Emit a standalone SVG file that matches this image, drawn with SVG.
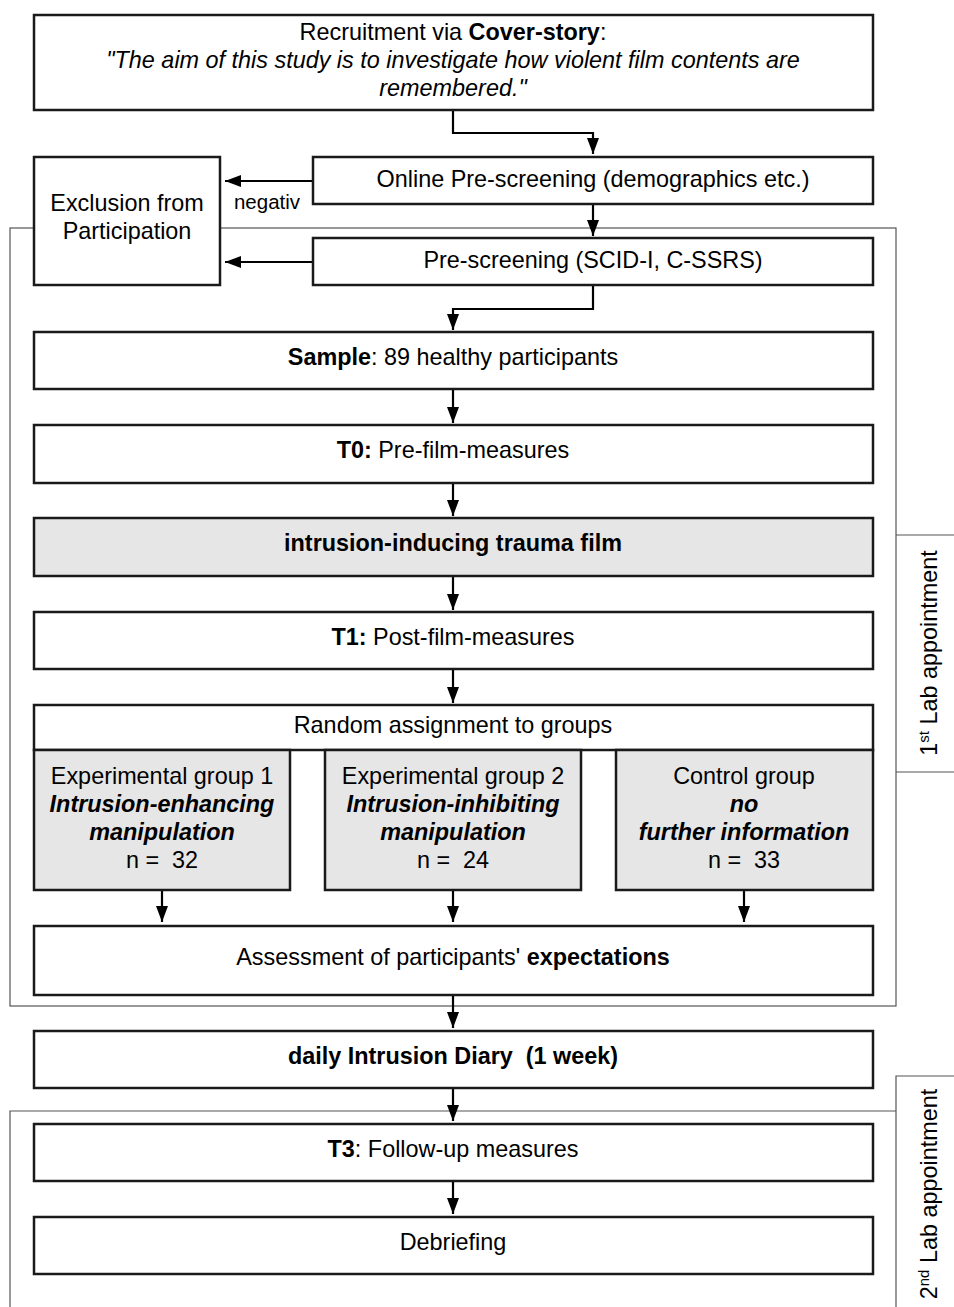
<svg xmlns="http://www.w3.org/2000/svg" width="954" height="1307" viewBox="0 0 954 1307">
<style>
text{font-family:"Liberation Sans",Arial,sans-serif;font-size:23.4px;fill:#000;text-anchor:middle}
.box{fill:#fff;stroke:#1a1a1a;stroke-width:2.5}
.grey{fill:#e6e6e6;stroke:#1a1a1a;stroke-width:2.5}
.frame{fill:none;stroke:#555;stroke-width:1.2}
.con{fill:none;stroke:#000;stroke-width:2.2}
.b{font-weight:bold}
.i{font-style:italic}
</style>
<defs>
<marker id="ah2" markerWidth="16" markerHeight="12" refX="16" refY="6" orient="auto" markerUnits="userSpaceOnUse">
<path d="M0,0 L16,6 L0,12 Z" fill="#000"/>
</marker>
</defs>
<g id="frames">
<rect class="frame" x="10" y="228" width="886" height="778"/>
<path class="frame" d="M896,535 H960 M896,772 H960"/>
<path class="frame" d="M10,1320 V1111 H896 M896,1320 V1076 H960"/>
</g>
<g id="connectors">
<path class="con" d="M453,110 V133 H593 V154" marker-end="url(#ah2)"/>
<path class="con" d="M313,181 H225" marker-end="url(#ah2)"/>
<path class="con" d="M593,204 V236" marker-end="url(#ah2)"/>
<path class="con" d="M313,262 H225" marker-end="url(#ah2)"/>
<path class="con" d="M593,285 V309 H453 V330" marker-end="url(#ah2)"/>
<path class="con" d="M453,389 V423" marker-end="url(#ah2)"/>
<path class="con" d="M453,483 V516" marker-end="url(#ah2)"/>
<path class="con" d="M453,576 V610" marker-end="url(#ah2)"/>
<path class="con" d="M453,669 V703" marker-end="url(#ah2)"/>
<path class="con" d="M162,890 V922" marker-end="url(#ah2)"/>
<path class="con" d="M453,890 V922" marker-end="url(#ah2)"/>
<path class="con" d="M744,890 V922" marker-end="url(#ah2)"/>
<path class="con" d="M453,995 V1028" marker-end="url(#ah2)"/>
<path class="con" d="M453,1088 V1121" marker-end="url(#ah2)"/>
<path class="con" d="M453,1181 V1214" marker-end="url(#ah2)"/>
<text x="267" y="209" style="font-size:20.5px">negativ</text>
</g>
<g id="recruitment">
<rect class="box" x="34" y="15" width="839" height="95"/>
<text x="453" y="40">Recruitment via <tspan class="b">Cover-story</tspan>:</text>
<text x="453" y="68" class="i">"The aim of this study is to investigate how violent film contents are</text>
<text x="453" y="96" class="i">remembered."</text>
</g>
<g id="online">
<rect class="box" x="313" y="157" width="560" height="47"/>
<text x="593" y="187">Online Pre-screening (demographics etc.)</text>
</g>
<g id="exclusion">
<rect class="box" x="34" y="157" width="186" height="128"/>
<text x="127" y="211">Exclusion from</text>
<text x="127" y="239">Participation</text>
</g>
<g id="prescreening">
<rect class="box" x="313" y="238" width="560" height="47"/>
<text x="593" y="268">Pre-screening (SCID-I, C-SSRS)</text>
</g>
<g id="sample">
<rect class="box" x="34" y="332" width="839" height="57"/>
<text x="453" y="365"><tspan class="b">Sample</tspan>: 89 healthy participants</text>
</g>
<g id="t0">
<rect class="box" x="34" y="425" width="839" height="58"/>
<text x="453" y="458"><tspan class="b">T0:</tspan> Pre-film-measures</text>
</g>
<g id="film">
<rect class="grey" x="34" y="518" width="839" height="58"/>
<text x="453" y="551" class="b">intrusion-inducing trauma film</text>
</g>
<g id="t1">
<rect class="box" x="34" y="612" width="839" height="57"/>
<text x="453" y="645"><tspan class="b">T1:</tspan> Post-film-measures</text>
</g>
<g id="random">
<rect class="box" x="34" y="705" width="839" height="45"/>
<text x="453" y="733">Random assignment to groups</text>
</g>
<g id="group1">
<rect class="grey" x="34" y="750" width="256" height="140"/>
<text x="162" y="784">Experimental group 1</text>
<text x="162" y="812" class="b i">Intrusion-enhancing</text>
<text x="162" y="840" class="b i">manipulation</text>
<text x="162" y="868" xml:space="preserve">n =  32</text>
</g>
<g id="group2">
<rect class="grey" x="325" y="750" width="256" height="140"/>
<text x="453" y="784">Experimental group 2</text>
<text x="453" y="812" class="b i">Intrusion-inhibiting</text>
<text x="453" y="840" class="b i">manipulation</text>
<text x="453" y="868" xml:space="preserve">n =  24</text>
</g>
<g id="control">
<rect class="grey" x="616" y="750" width="257" height="140"/>
<text x="744" y="784">Control group</text>
<text x="744" y="812" class="b i">no</text>
<text x="744" y="840" class="b i">further information</text>
<text x="744" y="868" xml:space="preserve">n =  33</text>
</g>
<g id="assessment">
<rect class="box" x="34" y="926" width="839" height="69"/>
<text x="453" y="965">Assessment of participants' <tspan class="b">expectations</tspan></text>
</g>
<g id="diary">
<rect class="box" x="34" y="1031" width="839" height="57"/>
<text x="453" y="1064" class="b" xml:space="preserve">daily Intrusion Diary  (1 week)</text>
</g>
<g id="t3">
<rect class="box" x="34" y="1124" width="839" height="57"/>
<text x="453" y="1157"><tspan class="b">T3</tspan>: Follow-up measures</text>
</g>
<g id="debriefing">
<rect class="box" x="34" y="1217" width="839" height="57"/>
<text x="453" y="1250">Debriefing</text>
</g>
<g id="lab1">
<text transform="translate(937,653) rotate(-90)">1<tspan style="font-size:15px" dy="-8">st</tspan><tspan dy="8"> Lab appointment</tspan></text>
</g>
<g id="lab2">
<text transform="translate(937,1194) rotate(-90)">2<tspan style="font-size:15px" dy="-8">nd</tspan><tspan dy="8"> Lab appointment</tspan></text>
</g>
</svg>
